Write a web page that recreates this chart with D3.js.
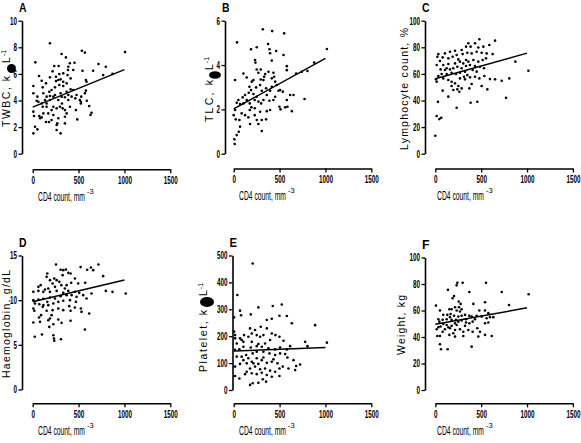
<!DOCTYPE html>
<html><head><meta charset="utf-8">
<script src="https://cdn.jsdelivr.net/npm/d3@7"></script>
<style>
body{margin:0;background:#fff;}
text{font-family:"Liberation Sans",Arial,sans-serif;fill:#000;}
</style></head>
<body><svg id="c" width="581" height="443"></svg>
<script>
// ---------- data ----------
const xTicks = [0, 500, 1000, 1500];
const xTitle = "CD4 count, mm";

const twbcTicks = [0, 2, 4, 6, 8, 10];
const twbcPts = [[188,8.3],[29,6.87],[7,1.53],[25,2.03],[51,1.83],[304,1.53],[261,1.78],[315,7.5],[536,7.74],[569,7.6],[1007,7.64],[362,7.24],[717,6.74],[797,6.54],[456,6.84],[405,6.8],[388,6.54],[384,6.29],[235,6.59],[283,6.59],[217,6.19],[188,5.74],[69,5.84],[98,5.49],[145,5.29],[304,5.59],[279,5.54],[254,5.46],[333,5.41],[543,6.24],[659,6.24],[580,5.54],[768,5.91],[870,6.0],[587,5.41],[7,5.09],[7,4.54],[109,4.99],[43,3.98],[62,3.91],[7,3.16],[14,2.83],[72,2.83],[98,2.73],[145,2.38],[178,2.38],[170,3.03],[206,3.28],[225,3.53],[261,3.41],[297,3.53],[326,3.41],[351,3.28],[370,3.03],[279,2.66],[268,2.28],[261,2.16],[351,2.28],[486,2.58],[616,3.58],[641,3.08],[630,2.91],[514,4.04],[525,3.78],[525,3.91],[471,3.28],[569,4.54],[580,4.74],[442,4.79],[413,4.84],[370,4.66],[304,4.54],[243,4.41],[188,4.34],[152,4.29],[134,4.04],[152,3.78],[188,4.04],[225,4.29],[279,4.04],[315,4.29],[351,4.24],[388,4.41],[424,4.29],[464,4.16],[206,4.79],[181,4.66],[243,4.99],[290,5.16],[333,5.09],[370,5.29],[152,3.53],[109,3.53],[116,3.03],[225,2.91],[319,3.78],[98,3.78],[406,3.53],[351,2.78],[206,2.53],[80,2.66],[333,6.04],[442,6.29],[380,5.91],[413,5.66],[290,5.99],[254,5.79],[116,4.54],[51,4.29],[478,4.41],[529,4.29],[590,3.98],[388,4.04]];
const twbcFit = [[0,3.5],[1000,6.32]];

const tlcTicks = [0, 2, 4, 6];
const tlcPts = [[317,5.61],[419,5.53],[550,5.43],[36,5.02],[375,4.95],[251,4.8],[189,4.71],[390,4.71],[463,4.63],[397,4.53],[543,4.45],[1016,4.72],[415,4.2],[233,4.23],[237,4.11],[579,3.95],[877,4.11],[804,3.73],[15,3.32],[106,3.62],[142,3.44],[251,3.8],[269,3.65],[295,3.8],[343,3.59],[379,3.7],[433,3.65],[415,3.4],[324,3.32],[215,3.32],[171,3.02],[189,2.87],[164,2.75],[124,2.65],[98,2.54],[51,2.42],[33,2.3],[15,1.97],[0,1.74],[22,1.55],[62,1.52],[69,1.22],[55,0.99],[33,0.84],[7,0.65],[11,0.44],[87,1.82],[124,1.74],[160,1.64],[178,1.34],[251,1.52],[269,1.34],[306,1.02],[306,1.52],[353,1.55],[361,1.92],[288,1.89],[229,2.05],[193,2.09],[175,2.27],[229,2.42],[269,2.35],[299,2.27],[324,2.42],[390,2.39],[433,2.42],[452,2.57],[488,2.84],[499,2.12],[510,2.0],[561,2.09],[586,2.12],[615,2.65],[652,2.65],[634,1.92],[772,2.47],[506,2.87],[535,2.8],[470,3.1],[452,3.25],[353,2.95],[306,2.84],[288,3.1],[244,2.99],[215,2.69],[251,2.57],[142,2.42],[106,2.27],[69,2.24],[361,2.65],[397,2.84],[415,3.02],[441,3.47],[332,3.47],[295,3.35],[197,3.25],[579,3.77],[681,3.62],[743,3.7],[175,1.97],[397,1.97],[229,1.74],[579,2.42]];
const tlcFit = [[0,2.02],[1000,4.3]];

const lymTicks = [0, 20, 40, 60, 80, 100];
const lymPts = [[0,13.5],[15,28.3],[44,26],[65,27],[29,39],[233,34.6],[385,38.3],[458,39.1],[771,42],[1015,62.4],[873,69.2],[807,56.6],[724,54.9],[651,55.9],[596,56.1],[567,48.4],[505,50.9],[535,58.4],[651,85],[480,86],[433,83],[360,83],[335,80.5],[385,80.5],[287,78],[215,77.4],[160,76.7],[105,75.4],[33,74.9],[22,72.9],[80,72.4],[142,71.7],[189,72.9],[233,74.2],[298,74.9],[349,75.9],[396,75.4],[451,76.7],[505,75.9],[560,75.4],[589,81.7],[524,80.5],[469,79.9],[625,74.9],[553,71.7],[516,70.4],[469,69.2],[415,70.4],[360,69.2],[305,67.9],[269,69.2],[215,67.9],[142,67.4],[87,66.7],[15,66.7],[58,63.4],[105,62.9],[160,63.4],[196,64.2],[240,65.4],[287,64.2],[335,65.9],[378,66.7],[433,65.9],[487,65.4],[531,64.2],[324,61.7],[269,60.9],[225,59.9],[178,60.9],[124,59.9],[69,59.9],[33,58.4],[7,55.9],[15,54.1],[87,56.6],[142,55.4],[178,54.1],[215,52.9],[251,50.9],[287,49.1],[178,50.9],[196,47.9],[240,48.4],[262,46.6],[142,42.9],[80,47.4],[371,49.1],[396,52.4],[378,57.4],[349,59.1],[313,57.9],[433,57.9],[480,56.6],[451,61.7],[269,56.6],[324,55.9],[407,62.9],[124,64.2],[335,70.4],[251,70.9],[51,69.7]];
const lymFit = [[0,56.3],[1000,75.6]];

const hbTicks = [0, 5, 10, 15];
const hbPts = [[254,13.99],[304,13.4],[333,13.36],[362,13.43],[522,13.7],[594,13.4],[634,13.66],[659,13.36],[717,13.99],[768,12.69],[797,11.04],[870,10.93],[1014,10.75],[159,12.99],[152,12.61],[188,12.24],[235,12.43],[261,12.24],[290,12.05],[388,13.06],[413,12.99],[460,12.43],[496,11.87],[572,11.94],[420,11.94],[370,11.68],[312,11.68],[243,11.49],[170,11.31],[134,11.19],[62,11.49],[7,10.93],[62,11.04],[116,10.93],[188,10.93],[261,11.04],[333,10.82],[388,11.04],[460,10.93],[507,10.82],[550,10.56],[587,10.19],[641,10.75],[370,10.56],[304,10.45],[243,10.19],[188,10.3],[116,10.15],[62,10.07],[7,10.0],[25,9.63],[72,9.55],[116,9.44],[170,9.44],[225,9.63],[279,9.81],[333,9.93],[406,10.0],[471,9.81],[398,9.33],[460,9.18],[525,9.07],[532,8.69],[616,8.51],[413,8.81],[333,8.88],[279,9.07],[217,8.88],[152,8.81],[7,9.07],[18,8.81],[91,8.32],[69,8.06],[80,7.57],[7,7.5],[170,7.76],[206,8.32],[225,7.31],[181,7.01],[279,7.84],[315,7.46],[413,7.69],[188,7.95],[22,5.9],[101,6.16],[225,6.08],[232,5.71],[235,5.45],[308,5.63],[569,6.72],[109,9.25],[159,9.81],[351,11.31],[424,10.56],[478,10.37],[217,11.87],[87,11.68],[326,12.8]];
const hbFit = [[0,9.82],[1000,12.25]];

const pltTicks = [0, 100, 200, 300, 400, 500];
const pltPts = [[207,470],[40,353],[69,295],[80,278],[186,281],[269,307],[426,312],[524,318],[4,270],[579,275],[499,276],[415,265],[633,248],[888,241],[360,260],[295,235],[233,223],[197,210],[160,198],[4,217],[15,204],[69,192],[87,186],[113,204],[178,229],[251,204],[288,198],[324,204],[361,229],[415,210],[455,204],[499,198],[543,183],[397,186],[342,173],[269,171],[197,179],[106,179],[33,173],[15,192],[779,179],[804,163],[1016,176],[186,158],[251,163],[306,161],[379,155],[452,151],[506,158],[579,151],[615,163],[106,161],[62,151],[15,149],[33,124],[87,124],[135,130],[207,136],[251,142],[324,142],[390,136],[452,130],[506,136],[561,134],[586,121],[652,111],[724,95],[681,89],[597,80],[535,87],[477,99],[415,105],[361,101],[306,111],[251,118],[197,105],[142,99],[69,97],[15,87],[178,80],[233,87],[288,77],[342,80],[397,72],[499,80],[142,68],[197,62],[251,59],[306,64],[361,56],[452,68],[499,52],[670,74],[15,52],[62,43],[124,59],[178,19],[207,25],[269,27],[353,31],[317,40],[415,49],[106,111],[160,118],[215,99],[269,97],[324,121],[433,114]];
const pltFit = [[0,145],[1000,158]];

const wtTicks = [0, 20, 40, 60, 80, 100];
const wtPts = [[7,63.7],[240,81],[298,81],[553,81],[138,75.6],[233,79],[204,71],[371,74],[724,74],[1018,72.3],[804,64.2],[189,69.3],[255,66.8],[276,65],[415,65],[542,66.2],[51,60],[33,53.4],[153,61],[178,61],[215,62.5],[258,62.5],[287,61],[233,60],[480,60],[542,60],[578,58],[596,55],[633,55],[560,54.2],[505,55.4],[451,56],[396,55.4],[371,56],[324,56.7],[287,56],[251,55.4],[204,56],[160,55],[124,53.4],[80,53],[44,51.6],[58,47.9],[33,47.4],[15,45.8],[80,44],[105,45.8],[142,47.4],[178,48.4],[215,50.4],[251,51.6],[287,52.4],[335,50.9],[371,50.4],[407,51.6],[178,52.9],[225,52.9],[124,49.1],[87,49.9],[160,46.6],[215,45.3],[269,45.8],[305,44],[360,45.3],[407,44],[196,42.8],[153,41.6],[215,40.3],[305,40.8],[22,40.8],[51,40.8],[469,40.3],[542,41.6],[615,40.8],[487,44],[458,46.6],[542,50.4],[578,50.9],[51,34.5],[62,30.7],[135,30.7],[396,32.7],[335,53.4],[433,53.4],[269,59.2],[167,57.4],[131,56.7],[87,56.7],[233,49.1],[324,48.4]];
const wtFit = [[0,49.6],[1000,62]];

// ---------- layout ----------
const panels = [
  {letter:"A", pts:twbcPts, fit:twbcFit, ticks:twbcTicks, x0:32.7, yAxisX:22,  top:20.7, bot:153.7, xAxisY:169.3, title:64,
   label:{x:10, parts:[{t:"TWBC, k", from:127, to:76}], blob:{cx:11.5,cy:68.5,rx:4.5,ry:4.5}, after:{t:"L", from:63, sup:"-1"}}},
  {letter:"B", pts:tlcPts, fit:tlcFit, ticks:tlcTicks, x0:233.7, yAxisX:225, top:20.7, bot:153.7, xAxisY:168.5, title:265,
   label:{x:213, parts:[{t:"TLC, k", from:122, to:80}], blob:{cx:215,cy:75,rx:6,ry:3.8}, after:{t:"L", from:70, sup:"-1"}}},
  {letter:"C", pts:lymPts, fit:lymFit, ticks:lymTicks, x0:435.3, yAxisX:425, top:20.7, bot:153.7, xAxisY:168.5, title:463,
   label:{x:408, parts:[{t:"Lymphocyte count, %", from:150, to:28}]}},
  {letter:"D", pts:hbPts, fit:hbFit, ticks:hbTicks, x0:32.7, yAxisX:22, top:255.5, bot:389.5, xAxisY:403.3, title:64,
   label:{x:10, parts:[{t:"Haemoglobin, g/dL", from:378, to:270}]}},
  {letter:"E", pts:pltPts, fit:pltFit, ticks:pltTicks, x0:233.7, yAxisX:232.5, top:255.5, bot:390, xAxisY:403.3, title:265,
   label:{x:207, parts:[{t:"Platelet, k", from:372, to:310}], blob:{cx:207,cy:302,rx:7,ry:5}, after:{t:"L", from:296, sup:"-1"}}},
  {letter:"F", pts:wtPts, fit:wtFit, ticks:wtTicks, x0:435.3, yAxisX:425, top:257.5, bot:390, xAxisY:403.3, title:463,
   label:{x:405, parts:[{t:"Weight, kg", from:355, to:295}]}}
];
const xWidth = 137.6;

const svg = d3.select("#c");

function condense(sel, perChar) {
  sel.each(function () {
    const n = this.textContent.length;
    d3.select(this).attr("textLength", n * perChar).attr("lengthAdjust", "spacingAndGlyphs");
  });
}

panels.forEach(p => {
  const x = d3.scaleLinear().domain([0,1500]).range([p.x0, p.x0 + xWidth]);
  const yMax = p.ticks[p.ticks.length-1];
  const y = d3.scaleLinear().domain([0,yMax]).range([p.bot, p.top]);
  const g = svg.append("g");

  const ya = g.append("g").attr("transform", `translate(${p.yAxisX},0)`)
    .call(d3.axisLeft(y).tickValues(p.ticks).tickSize(3.5).tickSizeOuter(0).tickPadding(1.5).tickFormat(d3.format("d")));
  const xa = g.append("g").attr("transform", `translate(0,${p.xAxisY})`)
    .call(d3.axisBottom(x).tickValues(xTicks).tickSize(4).tickSizeOuter(0).tickPadding(3).tickFormat(d3.format("d")));
  [ya, xa].forEach(a => {
    a.select(".domain").attr("stroke","#000").attr("stroke-width",1.6);
    a.selectAll(".tick line").attr("stroke","#000").attr("stroke-width",1.3);
    const tt = a.selectAll(".tick text").attr("font-size",10.5).attr("font-weight","bold")
      .style("font-family",'"Liberation Sans",Arial,sans-serif');
    condense(tt, 3.5);
  });

  g.append("g").selectAll("circle").data(p.pts).join("circle")
    .attr("cx", d => x(d[0])).attr("cy", d => y(d[1])).attr("r", 1.3).attr("fill","#000");

  g.append("line")
    .attr("x1", x(p.fit[0][0])).attr("y1", y(p.fit[0][1]))
    .attr("x2", x(p.fit[1][0])).attr("y2", y(p.fit[1][1]))
    .attr("stroke","#000").attr("stroke-width",1.5);

  g.append("text").attr("x", p.yAxisX - 3).attr("y", p.top - 8.5)
    .attr("font-size", 13).attr("font-weight","bold")
    .attr("textLength", 7.5).attr("lengthAdjust","spacingAndGlyphs").text(p.letter);

  // x title
  g.append("text").attr("x", p.title - 26).attr("y", p.xAxisY + 31.5)
    .attr("font-size",12)
    .attr("textLength", 47).attr("lengthAdjust","spacingAndGlyphs").text(xTitle);
  g.append("text").attr("x", p.title + 23).attr("y", p.xAxisY + 24.5)
    .attr("font-size",7.5).text("-3");

  // y title (rotated)
  const L = p.label;
  L.parts.forEach(pt => {
    g.append("text").attr("transform", `translate(${L.x},${pt.from}) rotate(-90)`)
      .attr("font-size",10.5).attr("textLength", pt.from - pt.to).attr("lengthAdjust","spacing")
      .text(pt.t);
  });
  if (L.blob) {
    g.append("ellipse").attr("cx",L.blob.cx).attr("cy",L.blob.cy).attr("rx",L.blob.rx).attr("ry",L.blob.ry).attr("fill","#000");
  }
  if (L.after) {
    const t = g.append("text").attr("transform", `translate(${L.x},${L.after.from}) rotate(-90)`)
      .attr("font-size",10.5);
    t.append("tspan").text(L.after.t);
    t.append("tspan").attr("dy",-4).attr("dx",1).attr("font-size",7).text(L.after.sup);
  }
});
</script></body></html>
